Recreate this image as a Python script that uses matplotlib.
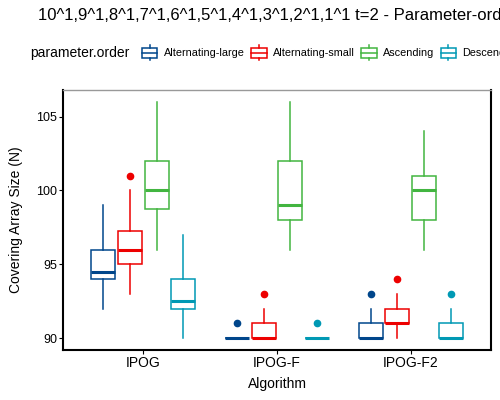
import matplotlib
matplotlib.use("Agg")
import matplotlib.pyplot as plt
from matplotlib.patches import Rectangle
from matplotlib.lines import Line2D
from matplotlib.legend_handler import HandlerBase

plt.rcParams['font.family'] = ['Liberation Sans', 'DejaVu Sans']

# data
algorithms = ["IPOG", "IPOG-F", "IPOG-F2"]
orders = ["Alternating-large", "Alternating-small", "Ascending", "Descending"]
colors = ["#00468B", "#ED0000", "#42B540", "#0099B4"]

# per order, one value per algorithm
whis_lo = {"Alternating-large": [92, 90, 90], "Alternating-small": [93, 90, 90],
           "Ascending": [96, 96, 96], "Descending": [90, 90, 90]}
q1 = {"Alternating-large": [94, 90, 90], "Alternating-small": [95, 90, 91],
      "Ascending": [98.75, 98, 98], "Descending": [92, 90, 90]}
med = {"Alternating-large": [94.5, 90, 90], "Alternating-small": [96, 90, 91],
       "Ascending": [100, 99, 100], "Descending": [92.5, 90, 90]}
q3 = {"Alternating-large": [96, 90, 91], "Alternating-small": [97.25, 91, 92],
      "Ascending": [102, 102, 101], "Descending": [94, 90, 91]}
whis_hi = {"Alternating-large": [99, 90, 92], "Alternating-small": [100, 92, 93],
           "Ascending": [106, 106, 104], "Descending": [97, 90, 92]}
outliers = {"Alternating-large": [[], [91], [93]], "Alternating-small": [[101], [93], [94]],
            "Ascending": [[], [], []], "Descending": [[], [91], [93]]}

fig = plt.figure(figsize=(5, 4), dpi=100)
ax = fig.add_axes([0.126, 0.125, 0.856, 0.65])

offsets = [-0.3, -0.1, 0.1, 0.3]
for k, o in enumerate(orders):
    stats = []
    for i in range(len(algorithms)):
        stats.append(dict(whislo=whis_lo[o][i], q1=q1[o][i], med=med[o][i],
                          q3=q3[o][i], whishi=whis_hi[o][i], fliers=outliers[o][i]))
    pos = [i + 1 + offsets[k] for i in range(len(algorithms))]
    c = colors[k]
    ax.bxp(stats, positions=pos, widths=0.18, showcaps=False, patch_artist=True,
           boxprops=dict(facecolor="white", edgecolor=c, linewidth=1.1),
           medianprops=dict(color=c, linewidth=2.2, solid_capstyle="butt"),
           whiskerprops=dict(color=c, linewidth=1.1),
           flierprops=dict(marker="o", markerfacecolor=c, markeredgecolor=c, markersize=4.5))

ax.set_xlim(0.4, 3.6)
ax.set_ylim(89.2, 106.8)
ax.set_xticks([1, 2, 3])
ax.set_xticklabels(algorithms)
ax.set_yticks([90, 95, 100, 105])
ax.tick_params(axis="both", length=2.9, width=0.8, pad=1.2, color="black", labelcolor="black")
ax.tick_params(axis="x", labelsize=10)
ax.tick_params(axis="y", labelsize=9)
ax.set_xlabel("Algorithm", fontsize=10, labelpad=5.5)
ax.set_ylabel("Covering Array Size (N)", fontsize=10, labelpad=9.5)

for s in ["left", "bottom", "right"]:
    ax.spines[s].set_linewidth(1.5)
    ax.spines[s].set_color("black")
ax.spines["top"].set_linewidth(1.0)
ax.spines["top"].set_color("#999999")

fig.text(0.076, 0.962, "10^1,9^1,8^1,7^1,6^1,5^1,4^1,3^1,2^1,1^1 t=2 - Parameter-order",
         fontsize=12, va="center", ha="left")


class BoxKey(HandlerBase):
    def create_artists(self, legend, orig_handle, xdescent, ydescent, width, height, fontsize, trans):
        c = orig_handle.get_color()
        cx = width / 2 - xdescent
        cy = height / 2 - ydescent
        bh = height * 0.95
        box = Rectangle((-xdescent + 1, cy - bh / 2), width - 2, bh, facecolor="white",
                        edgecolor=c, linewidth=1.1, transform=trans)
        mid = Line2D([-xdescent + 1, width - xdescent - 1], [cy, cy], color=c, linewidth=1.1, transform=trans)
        top = Line2D([cx, cx], [cy + bh / 2, cy + bh * 0.78], color=c, linewidth=1.1, transform=trans)
        bot = Line2D([cx, cx], [cy - bh / 2, cy - bh * 0.78], color=c, linewidth=1.1, transform=trans)
        return [box, mid, top, bot]


handles = [Line2D([], [], color=c) for c in colors]
fig.text(0.06, 1 - 53 / 400, "parameter.order", fontsize=10, va="center", ha="left")
fig.legend(handles, orders, handler_map={Line2D: BoxKey()}, loc="center left",
           bbox_to_anchor=(141 / 500, 1 - 53 / 400), ncol=4, frameon=False, fontsize=7.8,
           handlelength=1.65, handleheight=1.1, handletextpad=0.45, columnspacing=0.5,
           borderpad=0, borderaxespad=0)

fig.savefig("out.png", dpi=100)
